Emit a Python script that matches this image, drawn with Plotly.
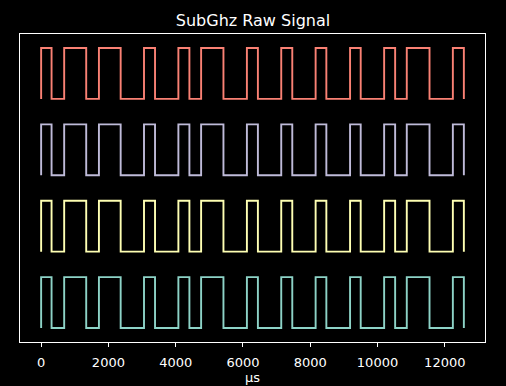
import plotly.graph_objects as go

# Pulse durations in microseconds (alternating high / low)
durations = [310, 375, 655, 378, 646, 694, 328, 694, 328, 348, 664, 697,
             327, 694, 328, 694, 319, 705, 316, 697, 327, 346, 676, 694, 327]

channels = ["ch0", "ch1", "ch2", "ch3"]
colors = ["#8dd3c7", "#feffb3", "#bfbbd9", "#fa8174"]
offset_step = 1.5

tick_vals = [0, 2000, 4000, 6000, 8000, 10000, 12000]

# build step coordinates from durations
times = [0, 0]
levels = [0, 1]
t = 0
level = 1
for d in durations:
    t += d
    level = 1 - level
    times.append(t)
    levels.append(level)

fig = go.Figure()
for i, name in enumerate(channels):
    fig.add_trace(go.Scatter(
        x=times,
        y=[v + i * offset_step for v in levels],
        mode="lines",
        line=dict(color=colors[i], width=1.9, shape="hv"),
        name=name,
        showlegend=False,
        hoverinfo="skip",
    ))

total = times[-1]
pad_x = total * 0.05
ymax = 1 + offset_step * (len(channels) - 1)
pad_y = ymax * 0.05

font = "DejaVu Sans, sans-serif"
fig.update_layout(
    width=506, height=386,
    margin=dict(l=20, r=21, t=34, b=44),
    paper_bgcolor="black",
    plot_bgcolor="black",
    font=dict(family=font, color="white", size=13),
    title=dict(text="SubGhz Raw Signal", x=0.5, xanchor="center",
               yref="container", y=1 - 20 / 386, yanchor="middle",
               font=dict(size=16, color="white", family=font)),
    xaxis=dict(
        range=[-pad_x, total + pad_x],
        tickvals=tick_vals,
        ticktext=[str(v) for v in tick_vals],
        ticks="outside", ticklen=4, tickwidth=1, tickcolor="white",
        ticklabelstandoff=4,
        automargin=False,
        showgrid=False, zeroline=False,
        showline=True, linecolor="white", linewidth=1, mirror=True,
        tickfont=dict(size=13, color="white", family=font),
    ),
    yaxis=dict(
        range=[-pad_y, ymax + pad_y],
        showticklabels=False, ticks="",
        automargin=False,
        showgrid=False, zeroline=False,
        showline=True, linecolor="white", linewidth=1, mirror=True,
    ),
    annotations=[dict(
        text="µs", xref="paper", yref="paper", x=0.5, y=0,
        xanchor="center", yanchor="middle", yshift=-35, showarrow=False,
        font=dict(size=13, color="white", family=font),
    )],
)

fig.write_html(
    "out.html",
    config={"displayModeBar": False},
    post_script="document.body.style.margin='0';document.body.style.background='black';",
)
